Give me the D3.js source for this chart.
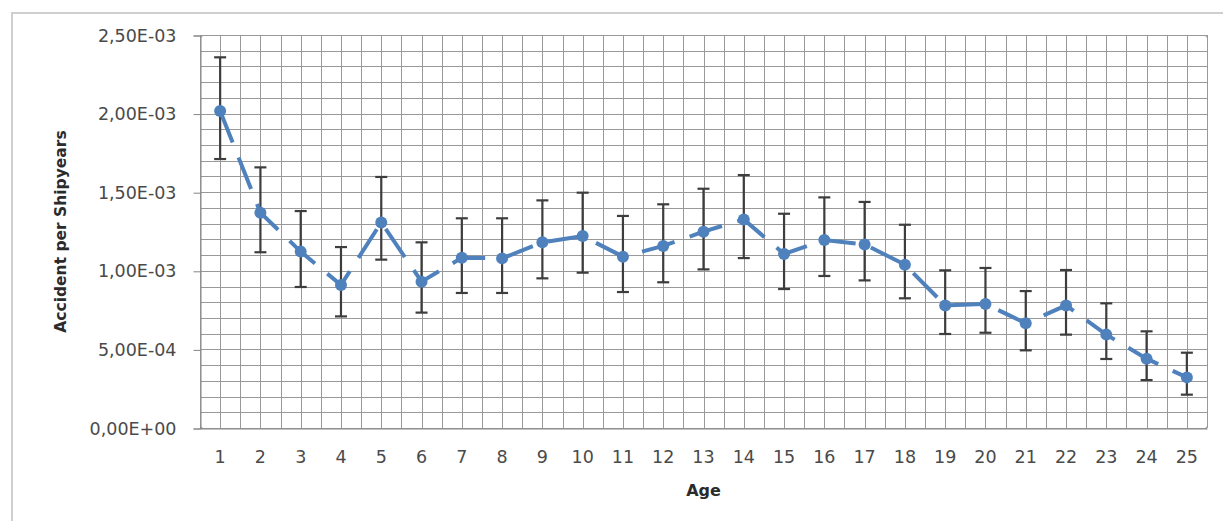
<!DOCTYPE html>
<html>
<head>
<meta charset="utf-8">
<script src="https://cdn.jsdelivr.net/npm/d3@7"></script>
<style>
  body { margin: 0; background: #fff; }
  svg { display: block; }
</style>
</head>
<body>
<svg id="chart" width="1223" height="521"></svg>
<script>
// Ages (x categories)
var ages = d3.range(1, 26);

// Accident per shipyears
var rate = [2.017e-3, 1.370e-3, 1.122e-3, 0.910e-3, 1.308e-3, 0.931e-3, 1.083e-3, 1.079e-3, 1.181e-3, 1.221e-3,
            1.090e-3, 1.158e-3, 1.249e-3, 1.327e-3, 1.107e-3, 1.196e-3, 1.168e-3, 1.039e-3, 0.780e-3, 0.789e-3,
            0.666e-3, 0.780e-3, 0.594e-3, 0.441e-3, 0.322e-3];

// Error bar ends
var upper = [2.358e-3, 1.658e-3, 1.380e-3, 1.151e-3, 1.597e-3, 1.181e-3, 1.334e-3, 1.334e-3, 1.448e-3, 1.497e-3,
             1.349e-3, 1.423e-3, 1.522e-3, 1.609e-3, 1.363e-3, 1.467e-3, 1.438e-3, 1.293e-3, 1.003e-3, 1.018e-3,
             0.871e-3, 1.005e-3, 0.793e-3, 0.615e-3, 0.479e-3];
var lower = [1.711e-3, 1.118e-3, 0.897e-3, 0.710e-3, 1.071e-3, 0.734e-3, 0.859e-3, 0.859e-3, 0.952e-3, 0.988e-3,
             0.865e-3, 0.927e-3, 1.009e-3, 1.081e-3, 0.884e-3, 0.967e-3, 0.939e-3, 0.825e-3, 0.598e-3, 0.606e-3,
             0.494e-3, 0.594e-3, 0.439e-3, 0.305e-3, 0.212e-3];

// y axis ticks and their labels
var yTicks = [0, 5e-4, 1e-3, 1.5e-3, 2e-3, 2.5e-3];
var yTickLabels = ["0,00E+00", "5,00E-04", "1,00E-03", "1,50E-03", "2,00E-03", "2,50E-03"];

var svg = d3.select("#chart");

// outer chart frame (cut off on right / bottom)
svg.append("path")
    .attr("d", "M12,530 L12,13 L1240,13")
    .attr("fill", "none")
    .attr("stroke", "#cfcfcf")
    .attr("stroke-width", 2);

var plotLeft = 200, plotRight = 1207, plotTop = 35, plotBottom = 428;

var x = d3.scaleBand()
    .domain(ages)
    .range([plotLeft, plotRight])
    .padding(0);
var bw = x.bandwidth();
var cx = d => x(d) + bw / 2;

var y = d3.scaleLinear()
    .domain([0, 2.5e-3])
    .range([plotBottom, plotTop]);

// grid
var grid = svg.append("g").attr("stroke", "#999").attr("stroke-width", 1);

grid.selectAll(".hg")
    .data(d3.range(0, 26).map(i => i * 1e-4))
    .enter()
    .append("line")
    .attr("x1", plotLeft)
    .attr("x2", plotRight)
    .attr("y1", d => Math.round(y(d)) + 0.5)
    .attr("y2", d => Math.round(y(d)) + 0.5);

// vertical lines at category edges and centres
var vLines = ages.map(d => x(d)).concat(ages.map(d => cx(d))).concat([plotRight]);
grid.selectAll(".vg")
    .data(vLines)
    .enter()
    .append("line")
    .attr("x1", d => Math.round(d) + 0.5)
    .attr("x2", d => Math.round(d) + 0.5)
    .attr("y1", plotTop)
    .attr("y2", plotBottom);

// plot border
svg.append("rect")
    .attr("x", plotLeft + 0.5)
    .attr("y", plotTop + 0.5)
    .attr("width", plotRight - plotLeft)
    .attr("height", plotBottom - plotTop)
    .attr("rx", 3)
    .attr("fill", "none")
    .attr("stroke", "#999");

// y axis
var yAxis = d3.axisLeft(y)
    .tickValues(yTicks)
    .tickFormat((d, i) => yTickLabels[i])
    .tickSize(7)
    .tickPadding(17);

var gy = svg.append("g")
    .attr("transform", "translate(" + (plotLeft + 0.5) + ",0.5)")
    .call(yAxis);
gy.select(".domain").attr("stroke", "#868686");
gy.selectAll(".tick line").attr("stroke", "#868686");
gy.selectAll("text")
    .attr("fill", "#4a4a4a")
    .style("font-family", "DejaVu Sans, sans-serif")
    .style("font-size", "17.5px");

// x axis
var xAxis = d3.axisBottom(x)
    .tickSize(0)
    .tickPadding(22);

var gx = svg.append("g")
    .attr("transform", "translate(0," + (plotBottom + 0.5) + ")")
    .call(xAxis);
gx.select(".domain").attr("stroke", "#868686");
gx.selectAll("text")
    .attr("fill", "#4a4a4a")
    .style("font-family", "DejaVu Sans, sans-serif")
    .style("font-size", "17.5px");

// error bars
var eb = svg.append("g").attr("stroke", "#3d3d3d").attr("stroke-width", 2.2);
ages.forEach(function (d, i) {
    var px = cx(d);
    eb.append("line").attr("x1", px).attr("x2", px).attr("y1", y(upper[i])).attr("y2", y(lower[i]));
    eb.append("line").attr("x1", px - 6).attr("x2", px + 6).attr("y1", y(upper[i])).attr("y2", y(upper[i]));
    eb.append("line").attr("x1", px - 6).attr("x2", px + 6).attr("y1", y(lower[i])).attr("y2", y(lower[i]));
});

// dashed line
var line = d3.line()
    .x((d, i) => cx(ages[i]))
    .y(d => y(d));

svg.append("path")
    .datum(rate)
    .attr("fill", "none")
    .attr("stroke", "#4f81bd")
    .attr("stroke-width", 4)
    .attr("stroke-dasharray", "34 16")
    .attr("d", line);

// markers
svg.selectAll(".pt")
    .data(rate)
    .enter()
    .append("circle")
    .attr("cx", (d, i) => cx(ages[i]))
    .attr("cy", d => y(d))
    .attr("r", 6)
    .attr("fill", "#4f81bd");

// axis titles
svg.append("text")
    .attr("transform", "translate(66," + ((plotTop + plotBottom) / 2) + ") rotate(-90)")
    .attr("text-anchor", "middle")
    .attr("fill", "#2b2b2b")
    .style("font-family", "DejaVu Sans, sans-serif")
    .style("font-weight", "bold")
    .style("font-size", "15.5px")
    .text("Accident per Shipyears");

svg.append("text")
    .attr("x", (plotLeft + plotRight) / 2)
    .attr("y", 496)
    .attr("text-anchor", "middle")
    .attr("fill", "#2b2b2b")
    .style("font-family", "DejaVu Sans, sans-serif")
    .style("font-weight", "bold")
    .style("font-size", "16px")
    .text("Age");
</script>
</body>
</html>
